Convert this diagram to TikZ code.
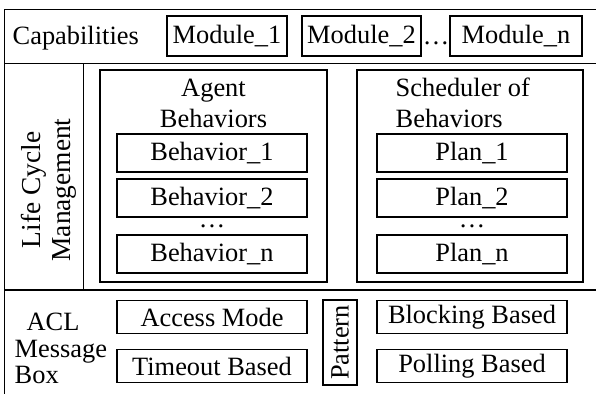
\documentclass[tikz,border=0pt]{standalone}
\usepackage{fontspec}
\setmainfont{Liberation Serif}
\begin{document}
\begin{tikzpicture}[x=1bp,y=-1bp,line width=1.4bp,
  every node/.style={inner sep=0pt, font=\fontsize{26.5}{31}\selectfont},
  box/.style={draw, line width=1.4bp, inner sep=0pt},
  frame/.style={draw, line width=1.4bp},
  vdots/.style={text height=3bp, text depth=0pt}]
\useasboundingbox (0,0) rectangle (596,393);
\clip (0,0) rectangle (596,393);
% outer frame and separators
\draw[frame] (4.5,9.5) rectangle (620,420);
\draw[frame] (4.5,63.5) -- (620,63.5);
\draw[frame] (4.5,290) -- (620,290);
\draw[frame] (83.5,63.5) -- (83.5,290);
% Capabilities row
\node[anchor=base west] (cap) at (12,44) {Capabilities};
\node[box, minimum width=120bp, minimum height=40bp] (m1) at (227,36) {Module\_1};
\node[box, minimum width=119bp, minimum height=40bp] (m2) at (361.5,36) {Module\_2};
\node[box, minimum width=132bp, minimum height=40bp] (mn) at (516,36) {Module\_n};
\node[vdots, anchor=base] (mdots) at (436,44) {…};
% Life cycle
\node[rotate=90, align=center, font=\fontsize{27.5}{30}\selectfont] (lcm) at (49,190) {Life Cycle\\Management};
\node[box, minimum width=227bp, minimum height=212bp] (agent) at (213.5,176) {};
\node[box, minimum width=226bp, minimum height=212bp] (sched) at (470,176) {};
\node[anchor=base] (agt1) at (213.5,96) {Agent};
\node[anchor=base] (agt2) at (213.5,127) {Behaviors};
\node[anchor=base west] (sch1) at (395,96) {Scheduler of};
\node[anchor=base west] (sch2) at (395,127) {Behaviors};
\node[box, minimum width=190bp, minimum height=38bp] (b1) at (212,153) {Behavior\_1};
\node[box, minimum width=190bp, minimum height=38bp] (b2) at (212,198) {Behavior\_2};
\node[vdots] (bdots) at (212,226) {…};
\node[box, minimum width=190bp, minimum height=38bp] (bn) at (212,254) {Behavior\_n};
\node[box, minimum width=190bp, minimum height=38bp] (p1) at (472,153) {Plan\_1};
\node[box, minimum width=190bp, minimum height=38bp] (p2) at (472,198) {Plan\_2};
\node[vdots] (pdots) at (472,226) {…};
\node[box, minimum width=190bp, minimum height=38bp] (pn) at (472,254) {Plan\_n};
% ACL row
\node[anchor=base] (acl1) at (53,330) {ACL};
\node[anchor=base west] (acl2) at (14,357) {Message};
\node[anchor=base west] (acl3) at (14,383) {Box};
\node[box, minimum width=190bp, minimum height=33bp] (am) at (212,317) {Access Mode};
\node[box, minimum width=190bp, minimum height=33bp] (tb) at (212,366) {Timeout Based};
\node[box, minimum width=34bp, minimum height=85bp] (pat) at (340,342.5) {};
\node[rotate=90] (patt) at (340,342.5) {Pattern};
\node[box, minimum width=190bp, minimum height=33bp] (bb) at (472,317) {Blocking Based};
\node[box, minimum width=190bp, minimum height=33bp] (pb) at (472,366) {Polling Based};
\end{tikzpicture}
\end{document}
